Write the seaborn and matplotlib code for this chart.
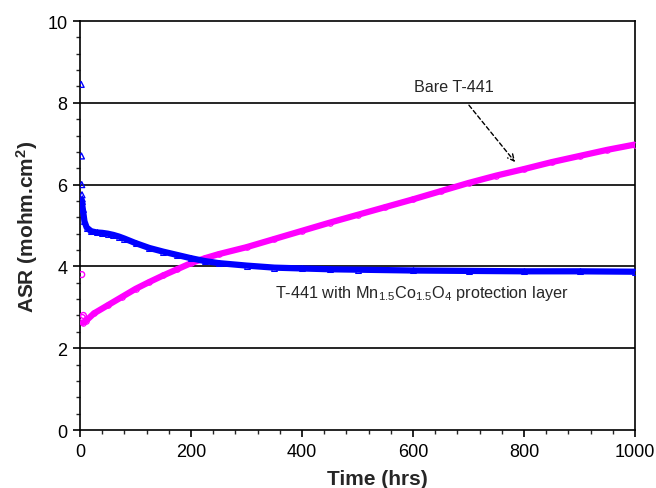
import matplotlib
matplotlib.use("Agg")
import matplotlib.pyplot as plt
import seaborn as sns
import pandas as pd
from matplotlib.ticker import MultipleLocator

# ---- data ----
time_bare = [5, 10, 25, 50, 75, 100, 125, 150, 175, 200, 225, 250, 300, 350, 400,
             450, 500, 550, 600, 650, 700, 750, 800, 850, 900, 950, 1000]
asr_bare = [2.62, 2.66, 2.85, 3.05, 3.25, 3.45, 3.62, 3.78, 3.93, 4.08, 4.2, 4.3,
            4.47, 4.67, 4.87, 5.07, 5.26, 5.45, 5.64, 5.84, 6.04, 6.22, 6.38, 6.55,
            6.7, 6.85, 6.98]
bare_initial_t = [3, 4, 6]
bare_initial_asr = [3.8, 2.75, 2.8]

time_coated = [3, 5, 8, 12, 20, 30, 40, 50, 60, 70, 80, 100, 125, 150, 175, 200,
               225, 250, 300, 350, 400, 450, 500, 600, 700, 800, 900, 1000]
asr_coated = [5.6, 5.4, 5.1, 4.95, 4.86, 4.83, 4.82, 4.8, 4.77, 4.73, 4.68, 4.57,
              4.45, 4.36, 4.28, 4.2, 4.13, 4.08, 4.02, 3.97, 3.95, 3.93, 3.92,
              3.9, 3.89, 3.88, 3.88, 3.87]
coated_initial_t = [2, 2.5, 3, 3.5, 4]
coated_initial_asr = [8.45, 6.7, 6.0, 5.75, 5.65]

label_bare = "Bare T-441"
label_coated = r"T-441 with Mn$_{1.5}$Co$_{1.5}$O$_4$ protection layer"
x_label = "Time (hrs)"
y_label = r"ASR (mohm.cm$^\mathbf{2}$)"

sns.set_style("ticks")
plt.rcParams["font.family"] = ["Liberation Sans", "DejaVu Sans"]
plt.rcParams["mathtext.fontset"] = "custom"
plt.rcParams["mathtext.rm"] = "Liberation Sans"
plt.rcParams["mathtext.it"] = "Liberation Sans:italic"
plt.rcParams["mathtext.bf"] = "Liberation Sans:bold"

fig = plt.figure(figsize=(6.56, 4.89), dpi=100)
ax = fig.add_axes([0.122, 0.1186, 0.846, 0.8364])

for y in [2, 4, 6, 8]:
    ax.axhline(y, color="black", lw=1.2, zorder=1)

df_bare = pd.DataFrame({"t": time_bare, "asr": asr_bare})
df_coat = pd.DataFrame({"t": time_coated, "asr": asr_coated})

sns.lineplot(data=df_bare, x="t", y="asr", ax=ax, color="#FF00FF", lw=4.5,
             marker="o", markersize=4, markerfacecolor="none",
             markeredgecolor="#FF00FF", zorder=3, sort=False)
sns.lineplot(data=df_coat, x="t", y="asr", ax=ax, color="#0000FF", lw=4.5,
             marker="^", markersize=4, markerfacecolor="none",
             markeredgecolor="#0000FF", zorder=4, sort=False)
sns.scatterplot(x=bare_initial_t, y=bare_initial_asr, ax=ax, marker="o", s=18,
                facecolor="none", edgecolor="#FF00FF", linewidth=1, zorder=3)
sns.scatterplot(x=coated_initial_t, y=coated_initial_asr, ax=ax, marker="^", s=18,
                facecolor="none", edgecolor="#0000FF", linewidth=1, zorder=4)

ax.set_xlim(0, 1000)
ax.set_ylim(0, 10)
ax.xaxis.set_major_locator(MultipleLocator(200))
ax.xaxis.set_minor_locator(MultipleLocator(40))
ax.yaxis.set_major_locator(MultipleLocator(2))
ax.yaxis.set_minor_locator(MultipleLocator(0.4))
ax.tick_params(which="major", direction="out", length=5, width=1.2, labelsize=13,
               colors="black", pad=4)
ax.tick_params(which="minor", direction="out", length=3, width=1.0)
for s in ax.spines.values():
    s.set_color("black")
    s.set_linewidth(1.2)
    s.set_visible(True)

ax.set_xlabel(x_label, fontsize=15, fontweight="bold")
ax.xaxis.set_label_coords(0.535, -0.095)
ax.set_ylabel(y_label, fontsize=15, fontweight="bold", labelpad=5)

ax.annotate(label_bare, xy=(784, 6.55), xytext=(674, 8.39), ha="center",
            va="center", fontsize=11.6,
            arrowprops=dict(arrowstyle="->", ls=(0, (3, 2)), color="black",
                            lw=1.0, shrinkA=7, shrinkB=0))
ax.text(351, 3.37, label_coated, ha="left", va="center", fontsize=11.7)

fig.savefig("out.png", dpi=100)
